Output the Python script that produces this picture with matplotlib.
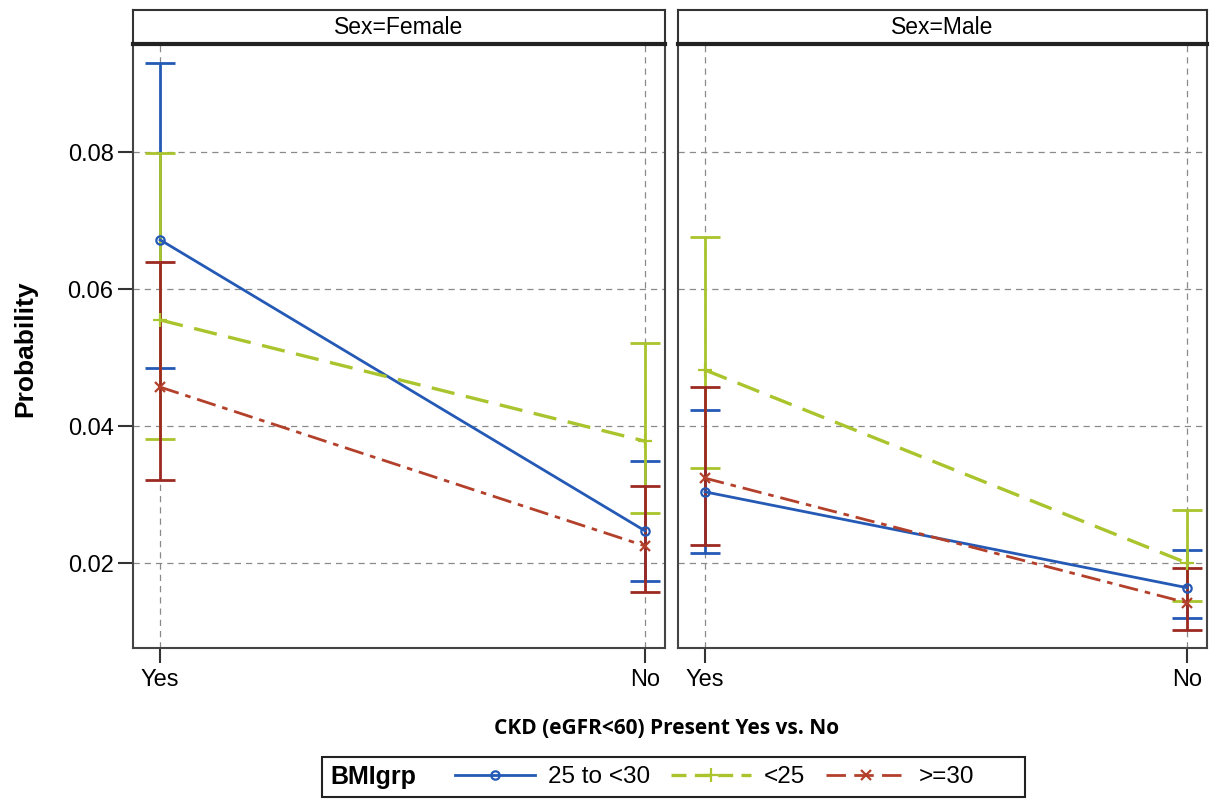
import numpy as np
import matplotlib.pyplot as plt
from matplotlib.lines import Line2D
from matplotlib.patches import Rectangle

# ---- data ----
cats = ["Yes", "No"]
panels = ["Sex=Female", "Sex=Male"]
groups = ["25 to <30", "<25", ">=30"]

female_2530 = [0.0672, 0.0247]
female_2530_lo = [0.0485, 0.0174]
female_2530_hi = [0.0930, 0.0349]
female_lt25 = [0.0555, 0.0378]
female_lt25_lo = [0.0381, 0.0273]
female_lt25_hi = [0.0799, 0.0522]
female_ge30 = [0.0457, 0.0225]
female_ge30_lo = [0.0321, 0.0158]
female_ge30_hi = [0.0639, 0.0312]

male_2530 = [0.0304, 0.0164]
male_2530_lo = [0.0215, 0.0120]
male_2530_hi = [0.0423, 0.0219]
male_lt25 = [0.0482, 0.0200]
male_lt25_lo = [0.0339, 0.0145]
male_lt25_hi = [0.0676, 0.0277]
male_ge30 = [0.0324, 0.0142]
male_ge30_lo = [0.0226, 0.0102]
male_ge30_hi = [0.0457, 0.0193]

yticks = [0.02, 0.04, 0.06, 0.08]

# ---- styles ----
plt.rcParams["font.family"] = ["Liberation Sans", "DejaVu Sans"]

blue, green, red = "#2459b5", "#a9c42c", "#b3402a"
styles = [
    dict(color=blue, ls="-", marker="o", mfc="none", ms=6, mew=1.6, lw=2.0),
    dict(color=green, ls=(0, (7, 3.5)), marker="+", ms=10, mew=1.6, lw=2.4),
    dict(color=red, ls=(0, (7, 2.5, 2, 2.5)), marker="x", ms=7, mew=1.6, lw=2.0),
]
cap_colors = [blue, green, "#9c2a22"]

panel_data = [
    [(female_2530, female_2530_lo, female_2530_hi),
     (female_lt25, female_lt25_lo, female_lt25_hi),
     (female_ge30, female_ge30_lo, female_ge30_hi)],
    [(male_2530, male_2530_lo, male_2530_hi),
     (male_lt25, male_lt25_lo, male_lt25_hi),
     (male_ge30, male_ge30_lo, male_ge30_hi)],
]

fig = plt.figure(figsize=(12.13, 7.99), dpi=100)
W, H = 1213, 799

def frac(x0, y0, x1, y1):
    return [x0 / W, 1 - y1 / H, (x1 - x0) / W, (y1 - y0) / H]

axes_px = [(133, 44, 665, 648), (678, 44, 1207, 648)]
x = np.arange(len(cats))

for i, (x0, y0, x1, y1) in enumerate(axes_px):
    ax = fig.add_axes(frac(x0, y0, x1, y1))
    hx = fig.add_axes(frac(x0, 10, x1, 44))
    hx.set_xticks([]); hx.set_yticks([])
    for s in hx.spines.values():
        s.set_linewidth(1.5); s.set_color("#333333")
    hx.spines["bottom"].set_linewidth(3); hx.spines["bottom"].set_color("#222222")
    hx.text(0.5, 0.48, panels[i], ha="center", va="center", fontsize=16.5,
            transform=hx.transAxes)

    # error bars first, then the lines
    for (vals, lo, hi), cc in zip(panel_data[i], cap_colors):
        v = np.array(vals); l = np.array(lo); h = np.array(hi)
        ax.errorbar(x, v, yerr=[v - l, h - v], fmt="none", ecolor=cc,
                    elinewidth=2.0, capsize=11, capthick=2.0, zorder=3)
    for (vals, lo, hi), st in zip(panel_data[i], styles):
        ax.plot(x, vals, zorder=4, **st)

    ax.set_xlim(-0.056, 1.041)
    ax.set_ylim(0.0076, 0.0958)
    ax.set_xticks(x)
    ax.set_xticklabels(cats, fontsize=17)
    ax.set_yticks(yticks)
    ax.grid(True, ls=(0, (5, 4)), color="#8a8a8a", lw=0.9)
    ax.set_axisbelow(True)
    ax.tick_params(axis="x", length=11, width=1.5, color="#333333", pad=4)
    ax.tick_params(axis="y", length=11, width=1.5, color="#333333", pad=3)
    for s in ax.spines.values():
        s.set_linewidth(1.5); s.set_color("#444444")
    if i == 0:
        ax.set_yticklabels(["%.2f" % t for t in yticks], fontsize=17)
    else:
        ax.tick_params(axis="y", labelleft=False, length=0)

fig.text(25 / W, 1 - 349 / H, "Probability", rotation=90, ha="center", va="center",
         fontsize=19, fontweight="bold")
fig.text(667 / W, 1 - 728 / H, "CKD (eGFR<60) Present Yes vs. No", ha="center",
         va="center", fontsize=15, fontweight="bold",
         family=["Open Sans", "DejaVu Sans"])

# legend box
fig.patches.append(Rectangle((322 / W, 1 - 797 / H), 703 / W, 40 / H,
                             transform=fig.transFigure, fill=False,
                             edgecolor="#222222", lw=1.5))
fig.text(330 / W, 1 - 777 / H, "BMIgrp", ha="left", va="center",
         fontsize=18, fontweight="bold")
handles = []
for st in styles:
    kw = dict(st)
    if kw["color"] == green:
        kw["ls"] = (0, (4.5, 2.5))
    elif kw["color"] == red:
        kw["ls"] = (0, (7, 3))
    handles.append(Line2D([], [], **kw))
leg = fig.legend(handles, groups, loc="center left", bbox_to_anchor=(455 / W, 1 - 777 / H),
                 ncol=3, frameon=False, fontsize=17.5, handlelength=3.3,
                 handletextpad=0.53, columnspacing=0.85, borderpad=0, borderaxespad=0)

fig.savefig("out.png", dpi=100, facecolor="white")
